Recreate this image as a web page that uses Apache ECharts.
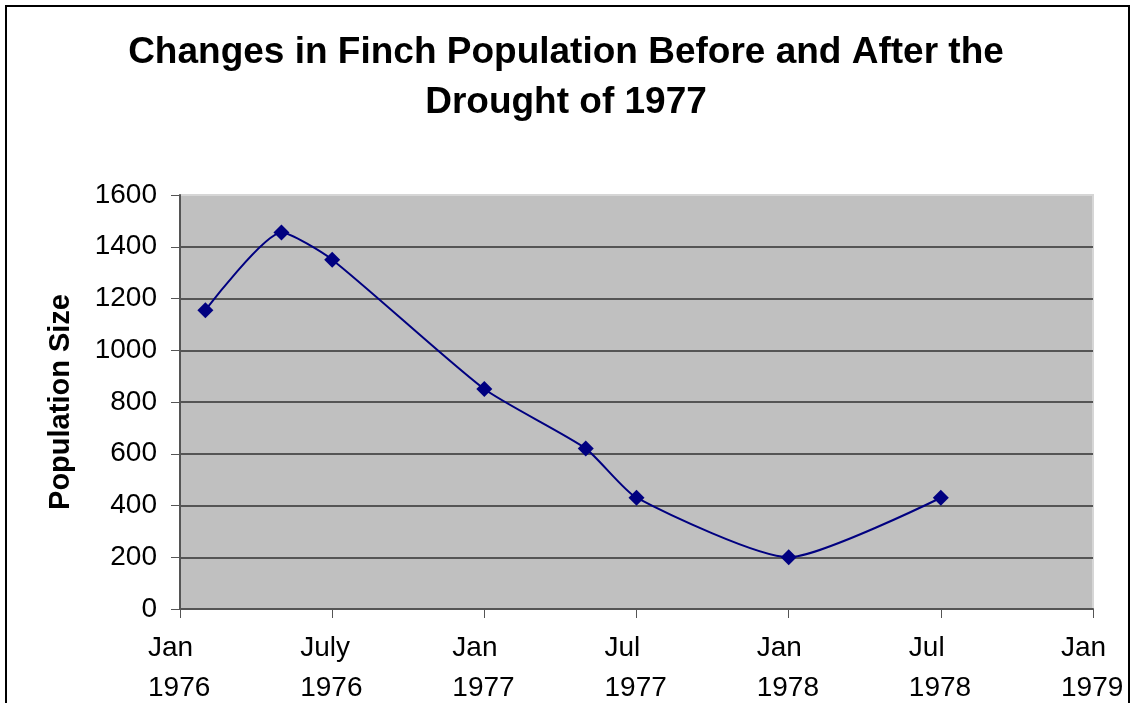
<!DOCTYPE html>
<html>
<head>
<meta charset="utf-8">
<title>Finch Population</title>
<script src="https://cdn.jsdelivr.net/npm/echarts@6/dist/echarts.min.js"></script>
<style>
  html, body { margin: 0; padding: 0; background: #fff; }
  #chart { width: 1132px; height: 703px; }
</style>
</head>
<body>
<div id="chart"></div>
<script>
// months counted from Jan 1976
var months = [1, 4, 6, 12, 16, 18, 24, 30];
var population = [1155, 1455, 1350, 850, 620, 430, 200, 430];
// x tick labels, one for every 6 months
var tickMonths = ['Jan', 'July', 'Jan', 'Jul', 'Jan', 'Jul', 'Jan'];
var tickYears = ['1976', '1976', '1977', '1977', '1978', '1978', '1979'];

var chart = echarts.init(document.getElementById('chart'));
var font = '"Liberation Sans", Arial, sans-serif';

var points = months.map(function (m, i) { return [m, population[i]]; });

var option = {
  backgroundColor: '#fff',
  animation: false,
  title: {
    text: 'Changes in Finch Population Before and After the\nDrought of 1977',
    left: 'center',
    top: 23,
    textStyle: {
      fontFamily: font,
      fontSize: 37,
      fontWeight: 'bold',
      color: '#000',
      lineHeight: 50
    }
  },
  graphic: [{
    type: 'rect',
    shape: { x: 6, y: 6, width: 1123, height: 740 },
    style: { fill: 'none', stroke: '#000', lineWidth: 2 },
    silent: true
  }],
  grid: {
    left: 180,
    right: 39,
    top: 195,
    bottom: 94,
    outerBoundsMode: 'none',
    containLabel: false,
    show: true,
    backgroundColor: '#c0c0c0',
    borderColor: '#d6d6d6',
    borderWidth: 2
  },
  xAxis: {
    type: 'value',
    min: 0,
    max: 36,
    interval: 6,
    axisLine: { show: true, onZero: false, lineStyle: { color: '#555', width: 2 } },
    axisTick: { show: true, inside: false, length: 9, lineStyle: { color: '#555', width: 1 } },
    splitLine: { show: false },
    axisLabel: {
      margin: 19,
      color: '#000',
      formatter: function (v) {
        var i = Math.round(v / 6);
        return '{a|' + tickMonths[i] + '}\n{a|' + tickYears[i] + '}';
      },
      rich: {
        a: {
          fontFamily: font,
          fontSize: 28,
          color: '#000',
          lineHeight: 40,
          width: 64,
          align: 'left'
        }
      }
    }
  },
  yAxis: {
    type: 'value',
    min: 0,
    max: 1600,
    interval: 200,
    name: 'Population Size',
    nameLocation: 'middle',
    nameGap: 105,
    nameTextStyle: { fontFamily: font, fontSize: 29, fontWeight: 'bold', color: '#000' },
    axisLine: { show: true, lineStyle: { color: '#555', width: 2 } },
    axisTick: { show: true, inside: false, length: 9, lineStyle: { color: '#555', width: 1 } },
    splitLine: {
      show: true,
      lineStyle: {
        color: ['#555', '#555', '#555', '#555', '#555', '#555', '#555', '#555', '#d6d6d6'],
        width: 2
      }
    },
    axisLabel: {
      margin: 23,
      fontFamily: font,
      fontSize: 28,
      color: '#000',
      formatter: function (v) { return String(v); }
    }
  },
  series: [{
    type: 'line',
    data: points,
    smooth: 0.2,
    symbol: 'diamond',
    symbolSize: 16,
    itemStyle: { color: '#000080' },
    lineStyle: { color: '#000080', width: 2 }
  }]
};

chart.setOption(option);
</script>
</body>
</html>
